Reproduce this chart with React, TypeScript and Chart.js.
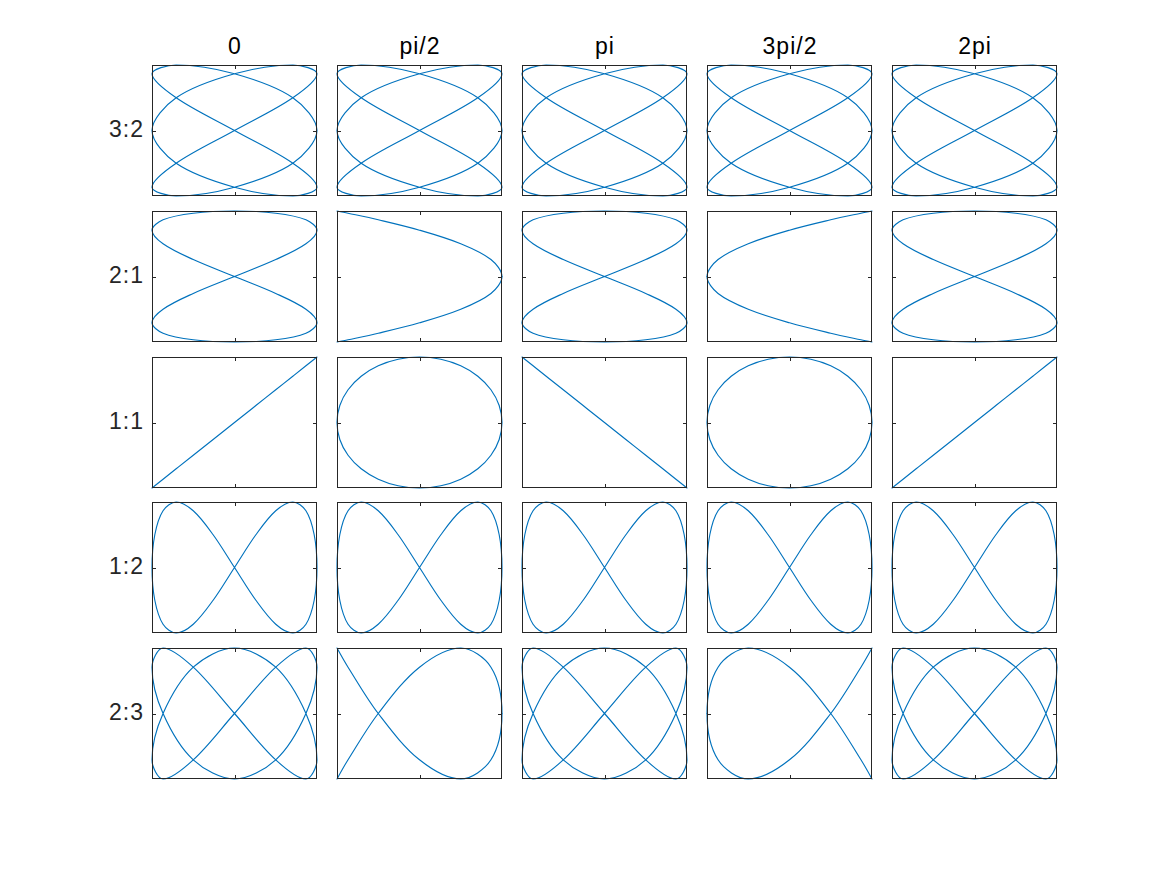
import React, { useEffect, useRef } from 'react';
import { Chart, registerables } from 'chart.js';

Chart.register(...registerables);

// ---- text ----
const COLUMN_TITLES = ['0', 'pi/2', 'pi', '3pi/2', '2pi'];
const ROW_LABELS = ['3:2', '2:1', '1:1', '1:2', '2:3'];

// ---- curve samples (24 per period) ----
const SIN_1T = [0, 0.259, 0.5, 0.707, 0.866, 0.966, 1, 0.966, 0.866, 0.707, 0.5, 0.259, 0, -0.259, -0.5, -0.707, -0.866, -0.966, -1, -0.966, -0.866, -0.707, -0.5, -0.259];
const COS_1T = [1, 0.966, 0.866, 0.707, 0.5, 0.259, 0, -0.259, -0.5, -0.707, -0.866, -0.966, -1, -0.966, -0.866, -0.707, -0.5, -0.259, 0, 0.259, 0.5, 0.707, 0.866, 0.966];
const NEG_SIN_1T = [0, -0.259, -0.5, -0.707, -0.866, -0.966, -1, -0.966, -0.866, -0.707, -0.5, -0.259, 0, 0.259, 0.5, 0.707, 0.866, 0.966, 1, 0.966, 0.866, 0.707, 0.5, 0.259];
const NEG_COS_1T = [-1, -0.966, -0.866, -0.707, -0.5, -0.259, 0, 0.259, 0.5, 0.707, 0.866, 0.966, 1, 0.966, 0.866, 0.707, 0.5, 0.259, 0, -0.259, -0.5, -0.707, -0.866, -0.966];

const SIN_2T = [0, 0.5, 0.866, 1, 0.866, 0.5, 0, -0.5, -0.866, -1, -0.866, -0.5, 0, 0.5, 0.866, 1, 0.866, 0.5, 0, -0.5, -0.866, -1, -0.866, -0.5];
const COS_2T = [1, 0.866, 0.5, 0, -0.5, -0.866, -1, -0.866, -0.5, 0, 0.5, 0.866, 1, 0.866, 0.5, 0, -0.5, -0.866, -1, -0.866, -0.5, 0, 0.5, 0.866];
const NEG_SIN_2T = [0, -0.5, -0.866, -1, -0.866, -0.5, 0, 0.5, 0.866, 1, 0.866, 0.5, 0, -0.5, -0.866, -1, -0.866, -0.5, 0, 0.5, 0.866, 1, 0.866, 0.5];
const NEG_COS_2T = [-1, -0.866, -0.5, 0, 0.5, 0.866, 1, 0.866, 0.5, 0, -0.5, -0.866, -1, -0.866, -0.5, 0, 0.5, 0.866, 1, 0.866, 0.5, 0, -0.5, -0.866];

const SIN_3T = [0, 0.707, 1, 0.707, 0, -0.707, -1, -0.707, 0, 0.707, 1, 0.707, 0, -0.707, -1, -0.707, 0, 0.707, 1, 0.707, 0, -0.707, -1, -0.707];
const COS_3T = [1, 0.707, 0, -0.707, -1, -0.707, 0, 0.707, 1, 0.707, 0, -0.707, -1, -0.707, 0, 0.707, 1, 0.707, 0, -0.707, -1, -0.707, 0, 0.707];
const NEG_SIN_3T = [0, -0.707, -1, -0.707, 0, 0.707, 1, 0.707, 0, -0.707, -1, -0.707, 0, 0.707, 1, 0.707, 0, -0.707, -1, -0.707, 0, 0.707, 1, 0.707];
const NEG_COS_3T = [-1, -0.707, 0, 0.707, 1, 0.707, 0, -0.707, -1, -0.707, 0, 0.707, 1, 0.707, 0, -0.707, -1, -0.707, 0, 0.707, 1, 0.707, 0, -0.707];

// x series per row (one per phase column) and y series per row
const ROW_X = [
  [SIN_3T, COS_3T, NEG_SIN_3T, NEG_COS_3T, SIN_3T],
  [SIN_2T, COS_2T, NEG_SIN_2T, NEG_COS_2T, SIN_2T],
  [SIN_1T, COS_1T, NEG_SIN_1T, NEG_COS_1T, SIN_1T],
  [SIN_1T, COS_1T, NEG_SIN_1T, NEG_COS_1T, SIN_1T],
  [SIN_2T, COS_2T, NEG_SIN_2T, NEG_COS_2T, SIN_2T],
];
const ROW_Y = [SIN_2T, SIN_1T, SIN_1T, SIN_2T, SIN_3T];

// ---- layout / style ----
const COL_LEFT = [152, 337, 522, 707, 892];
const ROW_TOP = [65, 211, 357, 502, 648];
const PANEL_W = 165;
const PANEL_H = 131;
const PAD = 4;
const LINE_COLOR = '#0072BD';
const AXIS_COLOR = '#262626';
const FONT = '"Liberation Sans", Arial, Helvetica, sans-serif';
const FONT_SIZE = 23;
const LETTER_SP = 1;
const HIDDEN = 'rgba(0,0,0,0)';

const boxPlugin = {
  id: 'matlabBox',
  afterDraw(chart: any) {
    const { ctx, chartArea } = chart;
    const { left, top, right, bottom } = chartArea;
    const xs = chart.scales.x;
    const ys = chart.scales.y;
    ctx.save();
    ctx.strokeStyle = AXIS_COLOR;
    ctx.lineWidth = 1;
    ctx.strokeRect(left + 0.5, top + 0.5, right - left - 1, bottom - top - 1);
    const x0 = Math.round(xs.getPixelForValue(0)) + 0.5;
    const y0 = Math.round(ys.getPixelForValue(0)) + 0.5;
    const tl = 3;
    ctx.beginPath();
    ctx.moveTo(x0, top + 1);
    ctx.lineTo(x0, top + 1 + tl);
    ctx.moveTo(x0, bottom - 1);
    ctx.lineTo(x0, bottom - 1 - tl);
    ctx.moveTo(left + 1, y0);
    ctx.lineTo(left + 1 + tl, y0);
    ctx.moveTo(right - 1, y0);
    ctx.lineTo(right - 1 - tl, y0);
    ctx.stroke();
    ctx.restore();
  },
};

function Panel({ xs, ys, left, top }: { xs: number[]; ys: number[]; left: number; top: number }) {
  const ref = useRef<HTMLCanvasElement>(null);
  useEffect(() => {
    const n = xs.length;
    // wrap one sample on each side so every drawn piece gets smooth tangents
    const order = [n - 1, ...xs.map((_, i) => i), 0, 1];
    const pts = order.map((k) => ({ x: xs[k], y: ys[k] }));
    const last = pts.length - 1;
    // hide the wrap pieces and any piece that retraces an already drawn one
    const hidden = new Set<number>();
    hidden.add(0);
    hidden.add(last - 1);
    const seen = new Set<string>();
    for (let s = 1; s < last - 1; s++) {
      const a = order[s];
      const b = order[s + 1];
      const ka = xs[a] + ',' + ys[a];
      const kb = xs[b] + ',' + ys[b];
      const key = ka < kb ? ka + '|' + kb : kb + '|' + ka;
      if (seen.has(key)) hidden.add(s);
      else seen.add(key);
    }
    const chart = new Chart(ref.current as HTMLCanvasElement, {
      type: 'line',
      data: {
        datasets: [
          {
            data: pts,
            borderColor: LINE_COLOR,
            borderWidth: 1.15,
            borderCapStyle: 'round',
            borderJoinStyle: 'round',
            pointRadius: 0,
            pointHoverRadius: 0,
            tension: 1 / 3,
            fill: false,
            clip: 3,
            segment: {
              borderColor: (c: any) => (hidden.has(c.p0DataIndex) ? HIDDEN : undefined),
            },
          } as any,
        ],
      },
      options: {
        responsive: false,
        animation: false,
        devicePixelRatio: 1,
        events: [],
        layout: { padding: PAD },
        plugins: { legend: { display: false }, tooltip: { enabled: false }, title: { display: false } },
        scales: {
          x: { type: 'linear', min: -1, max: 1, display: false },
          y: { type: 'linear', min: -1, max: 1, display: false },
        },
      } as any,
      plugins: [boxPlugin],
    });
    return () => chart.destroy();
  }, [xs, ys]);
  return (
    <canvas
      ref={ref}
      width={PANEL_W + 2 * PAD}
      height={PANEL_H + 2 * PAD}
      style={{
        position: 'absolute',
        left: left - PAD,
        top: top - PAD,
        width: PANEL_W + 2 * PAD,
        height: PANEL_H + 2 * PAD,
        display: 'block',
      }}
    />
  );
}

export default function App() {
  const baselineOff = FONT_SIZE * 0.8465;
  return (
    <div
      style={{
        position: 'absolute',
        left: 0,
        top: 0,
        width: 1167,
        height: 875,
        background: '#ffffff',
        fontFamily: FONT,
        overflow: 'hidden',
      }}
    >
      {COLUMN_TITLES.map((t, i) => (
        <div
          key={'t' + i}
          style={{
            position: 'absolute',
            left: COL_LEFT[i] + LETTER_SP / 2,
            top: 54.5 - baselineOff,
            width: PANEL_W,
            textAlign: 'center',
            fontSize: FONT_SIZE,
            lineHeight: FONT_SIZE + 'px',
            letterSpacing: LETTER_SP,
            color: '#000000',
            whiteSpace: 'nowrap',
          }}
        >
          {t}
        </div>
      ))}
      {ROW_LABELS.map((t, j) => (
        <div
          key={'r' + j}
          style={{
            position: 'absolute',
            left: 0,
            width: 143 + LETTER_SP,
            top: ROW_TOP[j] + 72.5 - baselineOff,
            textAlign: 'right',
            fontSize: FONT_SIZE,
            lineHeight: FONT_SIZE + 'px',
            letterSpacing: LETTER_SP,
            color: AXIS_COLOR,
            whiteSpace: 'nowrap',
          }}
        >
          {t}
        </div>
      ))}
      {ROW_X.map((rowXs, j) =>
        rowXs.map((xs, i) => (
          <Panel key={j + '-' + i} xs={xs} ys={ROW_Y[j]} left={COL_LEFT[i]} top={ROW_TOP[j]} />
        ))
      )}
    </div>
  );
}
